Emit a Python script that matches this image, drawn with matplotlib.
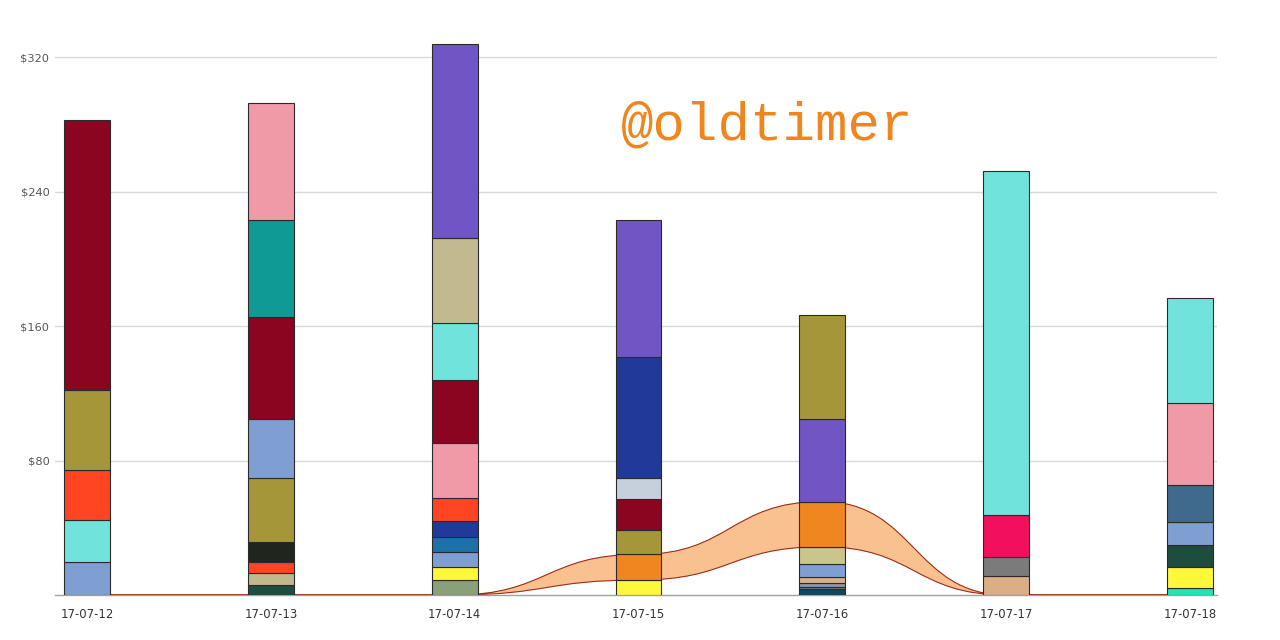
import matplotlib
matplotlib.use('Agg')
import matplotlib.pyplot as plt
from matplotlib.path import Path
from matplotlib.patches import PathPatch
import numpy as np

dates = ['17-07-12', '17-07-13', '17-07-14', '17-07-15', '17-07-16', '17-07-17', '17-07-18']

v_0712 = [19.8, 24.7, 29.6, 47.9, 160.4]
c_0712 = ['#7f9fd3', '#6fe3dc', '#ff4522', '#a6963a', '#8b0420']

v_0713 = [5.9, 7.0, 6.9, 11.5, 38.0, 35.6, 60.7, 57.6, 69.3]
c_0713 = ['#1e4d40', '#c0b88f', '#ff4522', '#20261e', '#a6963a', '#7f9fd3', '#8b0420', '#109a95', '#f09aa8']

v_0714 = [9.0, 7.7, 8.9, 8.8, 9.4, 14.1, 32.6, 37.5, 33.7, 50.6, 115.3]
c_0714 = ['#8aa07a', '#fff73a', '#7f9fd3', '#1a72a8', '#213a9a', '#ff4522', '#f09aa8', '#8b0420', '#6fe3dc', '#c2b98f', '#7055c4']

v_0715 = [8.9, 15.2, 14.5, 18.4, 12.4, 72.4, 81.5]
c_0715 = ['#fff73a', '#f0861f', '#a6963a', '#8b0420', '#c6d0dc', '#213a9a', '#7055c4']

v_0716 = [3.4, 1.5, 2.4, 3.4, 7.5, 10.5, 26.9, 49.0, 61.8]
c_0716 = ['#0c4a5f', '#6f7c8c', '#8d96a6', '#dbae86', '#7f9fd3', '#c8c68a', '#f0861f', '#7055c4', '#a6963a']

v_0717 = [11.3, 11.1, 25.1, 204.5]
c_0717 = ['#dbae86', '#7b7b7b', '#f2105e', '#6fe3dc']

v_0718 = [4.4, 12.5, 12.7, 14.1, 21.8, 48.8, 62.1]
c_0718 = ['#1de8b5', '#fff73a', '#1e4d40', '#7f9fd3', '#3f6a8d', '#f09aa8', '#6fe3dc']

# orange stream band (base of band and band thickness per day)
band_base = [0, 0, 0, 8.9, 28.7, 0, 0]
band_orange = [0, 0, 0, 15.2, 26.9, 0, 0]

y_ticks = [80, 160, 240, 320]
y_tick_labels = ['$80', '$160', '$240', '$320']
watermark = '@oldtimer'

day_values = [v_0712, v_0713, v_0714, v_0715, v_0716, v_0717, v_0718]
day_colors = [c_0712, c_0713, c_0714, c_0715, c_0716, c_0717, c_0718]

fig = plt.figure(figsize=(12.8, 6.4), dpi=100)
ax = fig.add_axes([55 / 1280, 1 - 595 / 640, (1217 - 55) / 1280, (595 - 23.4) / 640])

xs = np.arange(len(dates))

# band path with horizontal tangents at each point
upper = [b + o for b, o in zip(band_base, band_orange)]
n = len(xs)
verts = [(xs[0], upper[0])]
codes = [Path.MOVETO]
for i in range(1, n):
    xm = (xs[i - 1] + xs[i]) / 2
    verts += [(xm, upper[i - 1]), (xm, upper[i]), (xs[i], upper[i])]
    codes += [Path.CURVE4] * 3
verts.append((xs[-1], band_base[-1]))
codes.append(Path.LINETO)
for i in range(n - 1, 0, -1):
    xm = (xs[i - 1] + xs[i]) / 2
    verts += [(xm, band_base[i]), (xm, band_base[i - 1]), (xs[i - 1], band_base[i - 1])]
    codes += [Path.CURVE4] * 3
verts.append(verts[0])
codes.append(Path.CLOSEPOLY)
band = PathPatch(Path(verts, codes), facecolor='#f8c18f', edgecolor='#9c2b12',
                 linewidth=0.8, zorder=2.5)
ax.add_patch(band)

for x, vals, cols in zip(xs, day_values, day_colors):
    bottom = 0
    for v, c in zip(vals, cols):
        ax.bar(x, v, width=0.25, bottom=bottom, color=c, edgecolor='#2a2a2a',
               linewidth=0.8, zorder=3)
        bottom += v

ax.set_xlim(-0.174, 6.147)
ax.set_ylim(0, 340)
ax.set_yticks(y_ticks)
ax.set_yticklabels(y_tick_labels)
ax.set_xticks(xs)
ax.set_xticklabels(dates)
ax.yaxis.grid(True, color='#d9d9d9', linewidth=1, zorder=0)
ax.set_axisbelow(True)
for s in ['top', 'right', 'left']:
    ax.spines[s].set_visible(False)
ax.spines['bottom'].set_color('#a0a0a0')
ax.spines['bottom'].set_linewidth(1)
ax.tick_params(axis='y', length=0, pad=4, labelsize=8.2, labelcolor='#555555')
ax.tick_params(axis='x', length=0, pad=9, labelsize=8.4, labelcolor='#333333')

fig.text(767 / 1280, 1 - 125 / 640, watermark, ha='center', va='center',
         fontsize=39, color='#f0851e', family='Liberation Mono')

fig.savefig('out.png', dpi=100, facecolor='white')
